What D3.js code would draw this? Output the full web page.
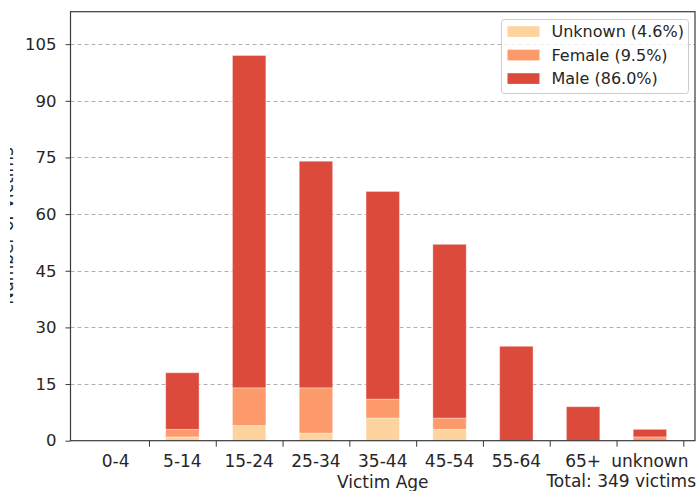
<!DOCTYPE html>
<html><head><meta charset="utf-8">
<script src="https://cdn.jsdelivr.net/npm/d3@7"></script>
<style>body{margin:0;background:#fff}svg{display:block}text{font-family:"DejaVu Sans",sans-serif;fill:#262626}</style>
</head><body><svg id="c" width="696" height="491"></svg>
<script>
const categories = ["0-4","5-14","15-24","25-34","35-44","45-54","55-64","65+","unknown"];
const unknownVals = [0,1,4,2,6,3,0,0,0];
const femaleVals  = [0,2,10,12,5,3,0,0,1];
const maleVals    = [0,15,88,60,55,46,25,9,2];
const yTicks = [0,15,30,45,60,75,90,105];
const seriesKeys = ["Unknown","Female","Male"];
const legendLabels = ["Unknown (4.6%)","Female (9.5%)","Male (86.0%)"];
const colors = {Unknown:"#fdd49e", Female:"#fc9a6b", Male:"#dc4a3c"};
const totalLabel = "Total: 349 victims";

const svg = d3.select("#c");
const L=70.5, R=695, T=11.7, B=440.7;
const x = d3.scaleLinear().domain([-0.675, 8.675]).range([L, R]);
const y = d3.scaleLinear().domain([0, 113.6]).range([B, T]);
const fs = 17;

const rows = categories.map((c,i)=>({i, Unknown:unknownVals[i], Female:femaleVals[i], Male:maleVals[i]}));
const stack = d3.stack().keys(seriesKeys)(rows);

// grid
svg.append("g").selectAll("line").data(yTicks.filter(d=>d>0)).join("line")
  .attr("x1",L).attr("x2",R).attr("y1",d=>Math.round(y(d))+0.5).attr("y2",d=>Math.round(y(d))+0.5)
  .attr("stroke","#b0b0b0").attr("stroke-dasharray","4,3").attr("stroke-width",1);

// bars
const bw = 0.5;
svg.append("g").selectAll("g").data(stack).join("g").attr("fill",d=>colors[d.key])
  .selectAll("rect").data(d=>d.filter(p=>p[1]-p[0]>0)).join("rect")
  .attr("x",p=>x(p.data.i-bw/2)).attr("width",p=>x(p.data.i+bw/2)-x(p.data.i-bw/2))
  .attr("y",p=>y(p[1])).attr("height",p=>y(p[0])-y(p[1]))
  .attr("stroke","#fff").attr("stroke-opacity",0.35).attr("stroke-width",1);

// frame
svg.append("rect").attr("x",L).attr("y",T).attr("width",R-L).attr("height",B-T)
  .attr("fill","none").attr("stroke","#3a3a3a").attr("stroke-width",1.2);

// y axis
const yAxis = d3.axisLeft(y).tickValues(yTicks).tickSize(5).tickPadding(9);
const gy = svg.append("g").attr("transform",`translate(${L},0)`).call(yAxis);
gy.select(".domain").remove();
gy.selectAll(".tick line").attr("stroke","#3a3a3a");
gy.selectAll(".tick text").attr("font-size",16.5).attr("font-family","DejaVu Sans").attr("fill","#262626");

// x axis: ticks at boundaries, labels at centers
const tickPos = categories.map((c,i)=>i+0.5);
const gx = svg.append("g").attr("transform",`translate(0,${B})`)
  .call(d3.axisBottom(x).tickValues(tickPos).tickSize(6).tickFormat(""));
gx.select(".domain").remove();
gx.selectAll(".tick line").attr("stroke","#3a3a3a");
svg.append("g").selectAll("text").data(categories).join("text")
  .attr("x",(d,i)=>x(i)).attr("y",467).attr("text-anchor","middle").attr("font-size",fs).text(d=>d);

svg.append("text").attr("x",(L+x(8.675))/2).attr("y",488).attr("text-anchor","middle").attr("font-size",fs).text("Victim Age");
svg.append("text").attr("x",696).attr("y",487).attr("text-anchor","end").attr("font-size",fs).text(totalLabel);

// clipped y label
svg.append("clipPath").attr("id","yl").append("rect").attr("x",10).attr("y",0).attr("width",10).attr("height",491);
svg.append("g").attr("clip-path","url(#yl)").append("text")
  .attr("transform","translate(12.5,226) rotate(-90)").attr("text-anchor","middle").attr("font-size",fs)
  .text("Number of Victims");

// legend
const lg = svg.append("g");
lg.append("rect").attr("x",501.5).attr("y",19.5).attr("width",187).attr("height",74).attr("rx",3)
  .attr("fill","#fff").attr("fill-opacity",0.8).attr("stroke","#cccccc");
seriesKeys.forEach((k,j)=>{
  const cy = 31.5 + j*23.5;
  lg.append("rect").attr("x",507.5).attr("y",cy-5.3).attr("width",32).attr("height",10.7).attr("fill",colors[k]);
  lg.append("text").attr("x",551.5).attr("y",cy+5.8).attr("font-size",16).text(legendLabels[j]);
});
</script></body></html>
